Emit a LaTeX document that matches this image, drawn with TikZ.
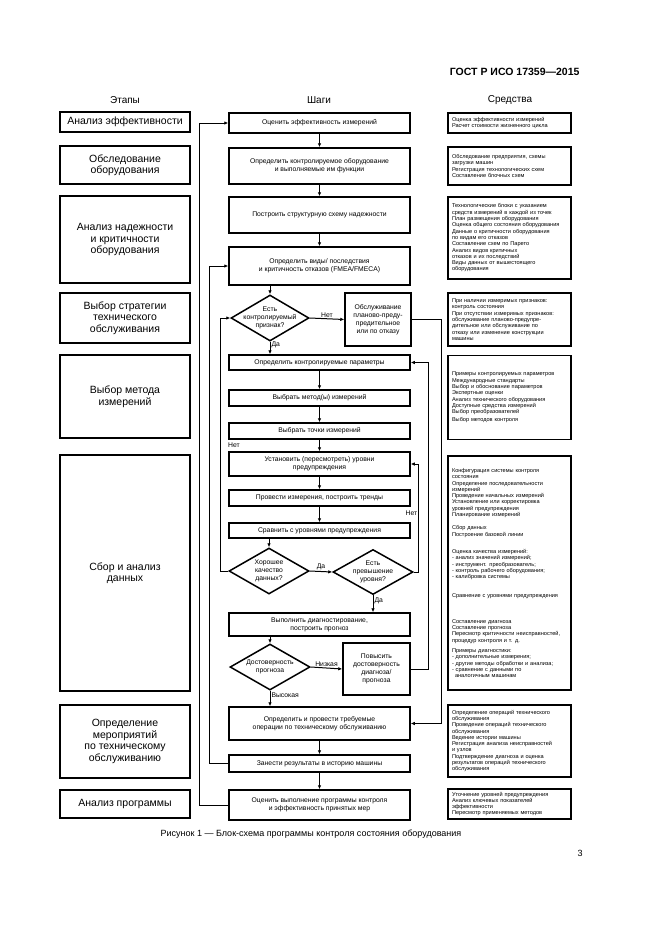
\documentclass[tikz,border=0pt]{standalone}
\usepackage{fontspec}
\setmainfont{Liberation Sans}
\usetikzlibrary{shapes.geometric,arrows.meta}
\tikzset{
    stage/.style = {draw, line width=1.5pt, minimum width=130, align=center, inner sep=2pt, font=\fontsize{10.5}{11.5}\selectfont},
    act/.style = {draw, line width=1.5pt, minimum width=181, align=center, inner sep=1pt, font=\fontsize{6.8}{8}\selectfont},
    side/.style = {draw, line width=1.5pt, minimum width=66, align=center, inner sep=1pt, font=\fontsize{6.8}{8}\selectfont},
    check/.style = {diamond, draw, line width=1.5pt, minimum width=80, minimum height=46, inner sep=0pt},
    dtext/.style = {align=center, inner sep=0pt, font=\fontsize{6.8}{7.8}\selectfont},
    tool/.style = {draw, line width=1.5pt, minimum width=123, text width=115, align=left, inner sep=0pt, font=\fontsize{5.6}{6.3}\selectfont},
    head/.style = {font=\fontsize{10}{12}\selectfont},
    note/.style = {font=\fontsize{6.8}{8}\selectfont, inner sep=1pt},
    conn/.style = {line width=1pt, -{Latex[length=4pt,width=3.5pt]}},
}
\begin{document}
\begin{tikzpicture}[x=1pt,y=-1pt]
    \useasboundingbox (0,0) rectangle (661,935);
    \fill[white] (0,0) rectangle (661,935);
    \node (gost) at (583,72) [anchor=east, font=\bfseries\fontsize{10.5}{12}\selectfont] {ГОСТ Р ИСО 17359—2015};
    \node (h1) at (125,100) [head] {Этапы};
    \node (h2) at (319,100) [head] {Шаги};
    \node (h3) at (510,100) [head] {Средства};

    \node (la) at (125,122) [stage, minimum height=20] {Анализ эффективности};
    \node (lb) at (125,165) [stage, minimum height=38] {Обследование\\оборудования};
    \node (lc) at (125,239.5) [stage, minimum height=87] {Анализ надежности\\и критичности\\оборудования};
    \node (ld) at (125,318) [stage, minimum height=50] {Выбор стратегии\\технического\\обслуживания};
    \node (le) at (125,396.5) [stage, minimum height=83] {Выбор метода\\измерений};
    \node (lf) at (125,573) [stage, minimum height=236] {Сбор и анализ\\данных};
    \node (lg) at (125,741.5) [stage, minimum height=73] {Определение\\мероприятий\\по техническому\\обслуживанию};
    \node (lh) at (125,804) [stage, minimum height=28] {Анализ программы};

    \node (m1) at (319.5,123) [act, minimum height=20] {Оценить эффективность измерений};
    \node (m2) at (319.5,166) [act, minimum height=36] {Определить контролируемое оборудование\\и выполняемые им функции};
    \node (m3) at (319.5,215) [act, minimum height=36] {Построить структурную схему надежности};
    \node (m4) at (319.5,266) [act, minimum height=38] {Определить виды/ последствия\\и критичность отказов (FMEA/FMECA)};
    \node (d1) at (270,318) [check, minimum width=78, label={[dtext]center:Есть\\контролируемый\\признак?}] {};
    \node (mno) at (378,319.5) [side, minimum height=53] {Обслуживание\\планово-преду-\\предительное\\или по отказу};
    \node (m5) at (319.5,362.5) [act, minimum height=15] {Определить контролируемые параметры};
    \node (m6) at (319.5,398) [act, minimum height=16] {Выбрать метод(ы) измерений};
    \node (m7) at (319.5,431) [act, minimum height=16] {Выбрать точки измерений};
    \node (m8) at (319.5,464) [act, minimum height=24] {Установить (пересмотреть) уровни\\предупреждения};
    \node (m9) at (319.5,498) [act, minimum height=16] {Провести измерения, построить тренды};
    \node (m10) at (319.5,530.5) [act, minimum height=15] {Сравнить с уровнями предупреждения};
    \node (d2) at (269,571) [check, label={[dtext]center:Хорошее\\качество\\данных?}] {};
    \node (d3) at (373,572) [check, minimum height=45, label={[dtext]center:Есть\\превышение\\уровня?}] {};
    \node (m11) at (319.5,624.5) [act, minimum height=23] {Выполнить диагностирование,\\построить прогноз};
    \node (d4) at (270,667) [check, label={[dtext]center:Достоверность\\прогноза}] {};
    \node (mup) at (376.5,669) [side, minimum width=67, minimum height=52] {Повысить\\достоверность\\диагноза/\\прогноза};
    \node (m12) at (319.5,723.5) [act, minimum height=33] {Определить и провести требуемые\\операции по техническому обслуживанию};
    \node (m13) at (319.5,763.5) [act, minimum height=17] {Занести результаты в историю машины};
    \node (m14) at (319.5,805) [act, minimum height=30] {Оценить выполнение программы контроля\\и эффективность принятых мер};
    \node (no2) at (234,445) [note] {Нет};

    \draw[conn] (m1) -- (m2);
    \draw[conn] (m2) -- (m3);
    \draw[conn] (m3) -- (m4);
    \draw[conn] (m4.south -| d1.north) -- (d1.north);
    \draw[conn] (d1.east) -- node[note, above] {Нет} (mno.west);
    \draw[conn] (d1.south) -- node[note, right, pos=0.25] {Да} (d1.south |- m5.north);
    \draw[conn] (m5) -- (m6);
    \draw[conn] (m6) -- (m7);
    \draw[conn] (m7) -- (m8);
    \draw[conn] (m8) -- (m9);
    \draw[conn] (m9) -- (m10);
    \draw[conn] (m10.south -| d2.north) -- (d2.north);
    \draw[conn] (d2.east) -- node[note, above] {Да} (d3.west);
    \draw[conn] (d3.south) -- node[note, right, pos=0.3] {Да} (d3.south |- m11.north);
    \draw[conn] (m11.south -| d4.north) -- (d4.north);
    \draw[conn] (d4.east) -- node[note, above] {Низкая} (mup.west);
    \draw[conn] (d4.south) -- node[note, right, pos=0.3] {Высокая} (d4.south |- m12.north);
    \draw[conn] (m12) -- (m13);
    \draw[conn] (m13) -- (m14);
    \draw[conn] (m14.west) -- ++(-29,0) |- (m1.west);
    \draw[conn] (m13.west) -- ++(-19,0) |- (m4.west);
    \draw[conn] (d2.west) -- ++(-8,0) |- (d1.west);
    \draw[conn] (d3.east) -- ++(5,0) |- node[note, left, pos=0.27] {Нет} (m8.east);
    \draw[conn] (mup.east) -- ++(18,0) |- (m5.east);
    \draw[conn] (mno.east) -- ++(30,0) |- (m12.east);

    \node (r1) at (509.5,123) [tool, minimum height=20] {Оценка эффективности измерений\\Расчет стоимости жизненного цикла};
    \node (r2) at (509.5,166) [tool, minimum height=38] {Обследование предприятия, схемы\\загрузки машин\\Регистрация технологических схем\\Составление блочных схем};
    \node (r3) at (509.5,238) [tool, minimum height=82] {Технологические блоки с указанием\\средств измерений в каждой из точек\\План размещения оборудования\\Оценка общего состояния оборудования\\Данные о критичности оборудования\\по видам его отказов\\Составление схем по Парето\\Анализ видов критичных\\отказов и их последствий\\Виды данных от вышестоящего\\оборудования};
    \node (r4) at (509.5,319.5) [tool, minimum height=53] {При наличии измеримых признаков:\\контроль состояния\\При отсутствии измеримых признаков:\\обслуживание планово-предупре-\\дительное или обслуживание по\\отказу или изменение конструкции\\машины};
    \node (r5) at (509.5,397.5) [tool, minimum height=84] {Примеры контролируемых параметров\\Международные стандарты\\Выбор и обоснование параметров\\Экспертные оценки\\Анализ технического оборудования\\Доступные средства измерений\\Выбор преобразователей\\[2pt]Выбор методов контроля};
    \node (r6) at (509.5,573) [tool, minimum height=234] {Конфигурация системы контроля\\состояния\\Определение последовательности\\измерений\\Проведение начальных измерений\\Установление или корректировка\\уровней предупреждения\\Планирование измерений\\[7pt]Сбор данных\\Построение базовой линии\\[11pt]Оценка качества измерений:\\- анализ значений измерений;\\- инструмент. преобразователь;\\- контроль рабочего оборудования;\\- калибровка системы\\[13pt]Сравнение с уровнями предупреждения\\[19pt]Составление диагноза\\Составление прогноза\\Пересмотр критичности неисправностей,\\процедур контроля и т. д.\\[4pt]Примеры диагностики:\\- дополнительные измерения;\\- другие методы обработки и анализа;\\- сравнение с данными по\\\hspace*{3pt}аналогичным машинам};
    \node (r7) at (509.5,741) [tool, minimum height=72] {Определение операций технического\\обслуживания\\Проведение операций технического\\обслуживания\\Ведение истории машины\\Регистрация анализа неисправностей\\и узлов\\Подтверждение диагноза и оценка\\результатов операций технического\\обслуживания};
    \node (r8) at (509.5,804) [tool, minimum height=30] {Уточнение уровней предупреждения\\Анализ ключевых показателей\\эффективности\\Пересмотр применяемых методов};

    \node (cap) at (311,834) [font=\fontsize{9}{11}\selectfont] {Рисунок 1 — Блок-схема программы контроля состояния оборудования};
    \node (pg) at (580,853) [font=\fontsize{9}{11}\selectfont] {3};
\end{tikzpicture}
\end{document}
